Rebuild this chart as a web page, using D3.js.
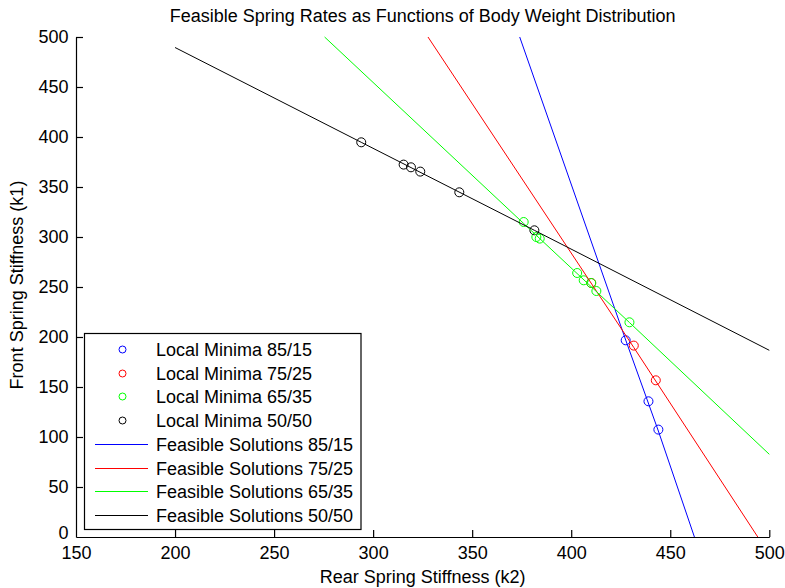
<!DOCTYPE html>
<html>
<head>
<meta charset="utf-8">
<script src="https://cdn.jsdelivr.net/npm/d3@7"></script>
<style>
  html, body { margin: 0; padding: 0; background: #fff; }
  svg { display: block; }
  text { font-family: "Liberation Sans", Arial, Helvetica, sans-serif; fill: #000; }
</style>
</head>
<body>
<svg id="chart" width="785" height="588"></svg>
<script>
// ---- data ----
const xTicks = [150, 200, 250, 300, 350, 400, 450, 500];
const yTicks = [0, 50, 100, 150, 200, 250, 300, 350, 400, 450, 500];

const seriesNames = ["85/15", "75/25", "65/35", "50/50"];
const seriesColors = ["#0000ff", "#ff0000", "#00ff00", "#000000"];

// local minima (k2 = rear, k1 = front)
const minima8515K2 = [427.5, 439.0, 444.0];
const minima8515K1 = [196.7, 135.7, 107.4];
const minima7525K2 = [410.1, 431.6, 442.7];
const minima7525K1 = [254.0, 191.4, 156.7];
const minima6535K2 = [376.0, 382.4, 384.1, 403.0, 406.3, 410.1, 412.7, 429.4];
const minima6535K1 = [315.0, 300.0, 298.4, 264.0, 256.7, 254.0, 246.0, 214.7];
const minima5050K2 = [294.0, 315.4, 319.1, 323.8, 343.5, 381.4];
const minima5050K1 = [394.7, 372.4, 369.7, 365.4, 344.7, 306.7];

// feasible solution curves
const feasible8515K2 = [374.0, 427.5, 444.0, 462.2];
const feasible8515K1 = [500, 197, 106, 0];
const feasible7525K2 = [327.7, 431.6, 494.2];
const feasible7525K1 = [500, 189.5, 0];
const feasible6535K2 = [275.5, 376.0, 429.4, 500];
const feasible6535K1 = [500, 313.5, 214.5, 82.7];
const feasible5050K2 = [200, 294.0, 381.4, 500];
const feasible5050K1 = [489.5, 394.7, 306.7, 186.7];

const minimaK2 = [minima8515K2, minima7525K2, minima6535K2, minima5050K2];
const minimaK1 = [minima8515K1, minima7525K1, minima6535K1, minima5050K1];
const feasibleK2 = [feasible8515K2, feasible7525K2, feasible6535K2, feasible5050K2];
const feasibleK1 = [feasible8515K1, feasible7525K1, feasible6535K1, feasible5050K1];

// ---- layout ----
const svg = d3.select("#chart");
const mLeft = 76, mRight = 769.3, mTop = 37, mBottom = 537;
const x = d3.scaleLinear().domain([150, 500]).range([mLeft, mRight]);
const y = d3.scaleLinear().domain([0, 500]).range([mBottom, mTop]);
const FS = 18;

// title
svg.append("text")
  .attr("x", (mLeft + mRight) / 2).attr("y", 22)
  .attr("text-anchor", "middle").style("font-size", FS + "px")
  .text("Feasible Spring Rates as Functions of Body Weight Distribution");

// axes
const xAxis = d3.axisBottom(x).tickValues(xTicks).tickSizeInner(-7).tickSizeOuter(0).tickPadding(14);
const gx = svg.append("g").attr("transform", `translate(0,${mBottom})`).call(xAxis);
const yAxis = d3.axisLeft(y).tickValues(yTicks).tickSizeInner(-7).tickSizeOuter(0).tickPadding(14);
const gy = svg.append("g").attr("transform", `translate(${mLeft},0)`).call(yAxis);
[gx, gy].forEach(g => {
  g.select(".domain").attr("stroke", "#000").attr("stroke-width", 1.2);
  g.selectAll(".tick line").attr("stroke", "#000").attr("stroke-width", 1.2);
  g.selectAll(".tick text").style("font-size", FS + "px")
    .style("font-family", '"Liberation Sans", Arial, sans-serif').attr("fill", "#000");
});
gx.selectAll(".tick text").attr("dy", "0.71em").attr("y", 9.5);
gy.selectAll(".tick text").attr("x", -7.5);
gx.selectAll(".tick").filter(d => d === 150).select("line").remove();
gy.selectAll(".tick").filter(d => d === 0).select("line").remove();
// the "0" label sits just above the "150" label at the corner
gy.selectAll(".tick").filter(d => d === 0).select("text").attr("dy", "0.08em");

// axis titles
svg.append("text")
  .attr("x", (mLeft + mRight) / 2).attr("y", 583)
  .attr("text-anchor", "middle").style("font-size", FS + "px")
  .text("Rear Spring Stiffness (k2)");
svg.append("text")
  .attr("transform", `translate(23,${(mTop + mBottom) / 2 - 2}) rotate(-90)`)
  .attr("text-anchor", "middle").style("font-size", FS + "px")
  .text("Front Spring Stiffness (k1)");

const plot = svg.append("g");

// minima markers
seriesNames.forEach((n, i) => {
  const pts = minimaK2[i].map((k2, j) => [k2, minimaK1[i][j]]);
  plot.append("g").selectAll("circle").data(pts).join("circle")
    .attr("cx", d => x(d[0])).attr("cy", d => y(d[1])).attr("r", 4.5)
    .attr("fill", "none").attr("stroke", seriesColors[i]).attr("stroke-width", 1);
});

// feasible lines
const lineGen = d3.line().x(d => x(d[0])).y(d => y(d[1]));
seriesNames.forEach((n, i) => {
  const pts = feasibleK2[i].map((k2, j) => [k2, feasibleK1[i][j]]);
  plot.append("path").datum(pts).attr("d", lineGen)
    .attr("fill", "none").attr("stroke", seriesColors[i]).attr("stroke-width", 1);
});

// legend
const lg = svg.append("g");
lg.append("rect").attr("x", 84.5).attr("y", 333.5).attr("width", 276.5).attr("height", 196)
  .attr("fill", "#fff").attr("stroke", "#000").attr("stroke-width", 1.2);
const rowY0 = 349, rowDy = 23.7;
const labels = seriesNames.map(n => "Local Minima " + n).concat(seriesNames.map(n => "Feasible Solutions " + n));
labels.forEach((lab, k) => {
  const cy = Math.round(rowY0 + k * rowDy) + 0.5;
  const ci = k % 4;
  if (k < 4) {
    lg.append("circle").attr("cx", 122.5).attr("cy", cy).attr("r", 3.5)
      .attr("fill", "none").attr("stroke", seriesColors[ci]).attr("stroke-width", 1);
  } else {
    lg.append("line").attr("x1", 95).attr("x2", 148).attr("y1", cy).attr("y2", cy)
      .attr("stroke", seriesColors[ci]).attr("stroke-width", 1);
  }
  lg.append("text").attr("x", 156).attr("y", cy).attr("dy", "0.35em")
    .style("font-size", FS + "px").text(lab);
});
</script>
</body>
</html>
